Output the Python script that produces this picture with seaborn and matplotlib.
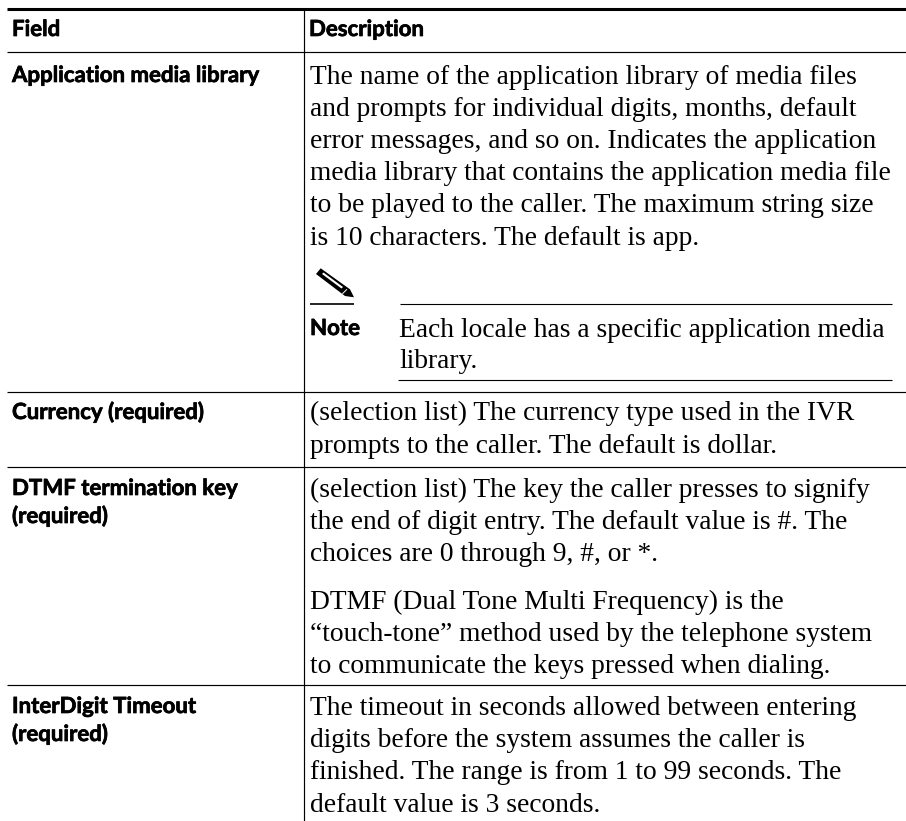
import matplotlib
matplotlib.use("Agg")
import matplotlib.pyplot as plt
import matplotlib.patheffects as pe
import seaborn as sns
from matplotlib.patches import Polygon

sns.set_theme(style="white")

HEAD = "Lato"
BODY = "Liberation Serif"

# === Texto de la tabla ===
headers = ["Field", "Description"]
fields = [
    ["Application media library"],
    ["Currency (required)"],
    ["DTMF termination key", "(required)"],
    ["InterDigit Timeout", "(required)"],
]
desc_lines = [
    "The name of the application library of media files",
    "and prompts for individual digits, months, default",
    "error messages, and so on. Indicates the application",
    "media library that contains the application media file",
    "to be played to the caller. The maximum string size",
    "is 10 characters. The default is app.",
    "(selection list) The currency type used in the IVR",
    "prompts to the caller. The default is dollar.",
    "(selection list) The key the caller presses to signify",
    "the end of digit entry. The default value is #. The",
    "choices are 0 through 9, #, or *.",
    "DTMF (Dual Tone Multi Frequency) is the",
    "\u201ctouch-tone\u201d method used by the telephone system",
    "to communicate the keys pressed when dialing.",
    "The timeout in seconds allowed between entering",
    "digits before the system assumes the caller is",
    "finished. The range is from 1 to 99 seconds. The",
    "default value is 3 seconds.",
]
note_label = "Note"
note_lines = ["Each locale has a specific application media", "library."]

# baselines en pixeles
desc_y = [84, 116, 148, 180, 212, 245, 420, 453, 497, 529, 561, 609, 641, 673, 715, 747, 779, 812]
field_y = [[82], [419], [495, 523], [713, 741]]
note_y = [337, 368]
row_lines = [52, 392, 467, 685]

fig = plt.figure(figsize=(9.06, 8.21), dpi=100)
ax = fig.add_axes([0, 0, 1, 1])
ax.set_xlim(0, 906)
ax.set_ylim(821, 0)
ax.axis("off")

# Lineas
ax.hlines(8.7, 7, 906, color="black", lw=2.2)
ax.hlines(row_lines, 7, 906, color="black", lw=0.85)
ax.vlines(304, 9, 821, color="black", lw=0.85)
ax.hlines(304, 400, 892, color="black", lw=0.8)
ax.hlines(380, 398, 892, color="black", lw=0.8)
ax.hlines(304, 310, 354, color="black", lw=1.2)

# Negrita mas pesada para los titulos
grueso = [pe.withStroke(linewidth=0.5, foreground="black")]
head_style = dict(family=HEAD, weight="bold", fontsize=16, color="black", path_effects=grueso)

# Encabezado
ax.text(12, 36, headers[0], **head_style)
ax.text(309, 36, headers[1], **head_style)

for lineas, ys in zip(fields, field_y):
    for t, y in zip(lineas, ys):
        ax.text(12, y, t, **head_style)

for t, y in zip(desc_lines, desc_y):
    ax.text(310, y, t, family=BODY, fontsize=19.8, color="black")

ax.text(310, 335, note_label, **head_style)
for t, y in zip(note_lines, note_y):
    ax.text(399, y, t, family=BODY, fontsize=19.8, color="black")

# Lapiz de la nota
ax.add_patch(Polygon([(316, 274), (320.7, 268.3), (350, 289.3), (354, 297.3), (345, 296)],
                     closed=True, fc="black", ec="none"))
ax.add_patch(Polygon([(322, 274), (323.5, 272.5), (343, 287), (341.5, 288.5)], closed=True, fc="white", ec="none"))
ax.add_patch(Polygon([(342, 293.5), (346.5, 289), (347.3, 289.6), (342.8, 294.1)], closed=True, fc="white", ec="none"))

fig.savefig("out.png", dpi=100)
